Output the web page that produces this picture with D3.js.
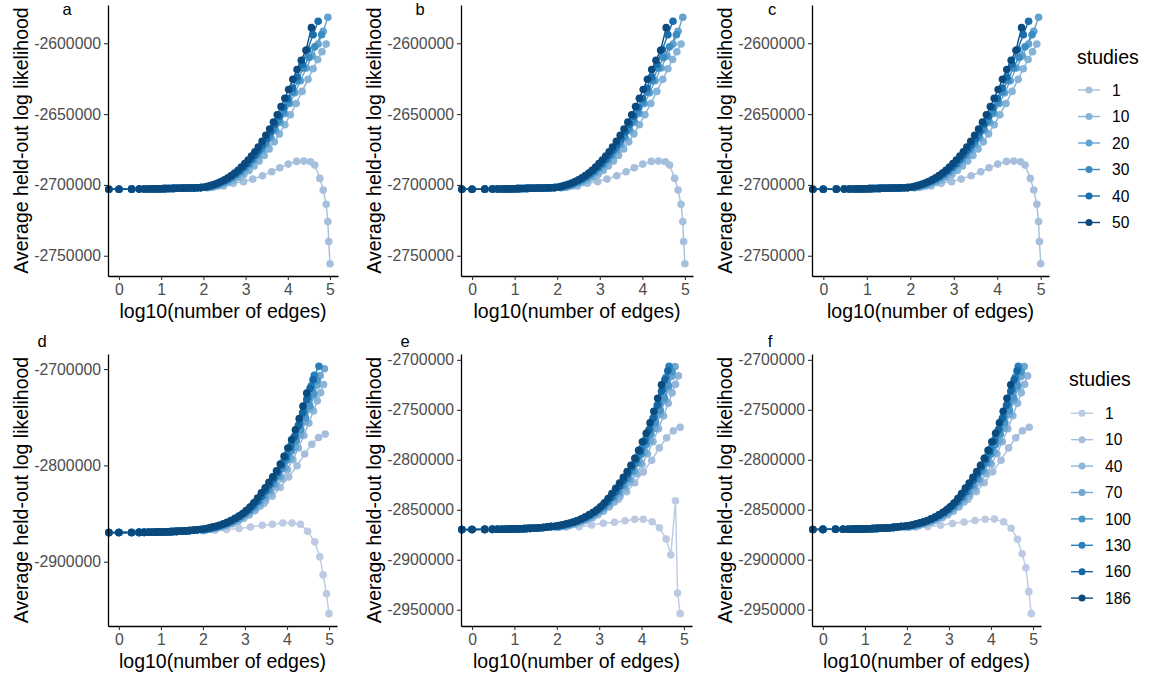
<!DOCTYPE html>
<html>
<head>
<meta charset="utf-8">
<script src="https://cdn.jsdelivr.net/npm/d3@7"></script>
<style>
  body { margin: 0; background: #fff; }
  svg { display: block; }
  text { font-family: "Liberation Sans", Arial, Helvetica, sans-serif; }
</style>
</head>
<body>
<svg id="chart" width="1150" height="676"></svg>
<script>
// ---- data: [log10(number of edges), avg held-out log likelihood] ----
const xTicks = [0, 1, 2, 3, 4, 5];
const topStudies = ["1", "10", "20", "30", "40", "50"];
const bottomStudies = ["1", "10", "40", "70", "100", "130", "160", "186"];
const topYTicks = [-2750000, -2700000, -2650000, -2600000];
const dYTicks = [-2900000, -2800000, -2700000];
const efYTicks = [-2950000, -2900000, -2850000, -2800000, -2750000, -2700000];

// shared flat start (all series overlap here), top row
const topFlat = [[-0.24,-2703100],[0,-2703050],[0.3,-2703000],[0.48,-2702950],[0.6,-2702900],[0.7,-2702850],[0.78,-2702800],[0.85,-2702780],[0.9,-2702750],[0.95,-2702720],[1.0,-2702700],[1.06,-2702650],[1.12,-2702600],[1.18,-2702550],[1.24,-2702500],[1.3,-2702450],[1.37,-2702400],[1.44,-2702350],[1.52,-2702300],[1.6,-2702250],[1.68,-2702200],[1.77,-2702100],[1.86,-2702000],[1.94,-2701900]];

const top1 = [[2.2,-2701600],[2.48,-2700800],[2.71,-2698900],[2.95,-2697700],[3.17,-2695900],[3.4,-2693500],[3.62,-2690700],[3.81,-2687900],[4.01,-2685300],[4.21,-2683400],[4.38,-2683200],[4.54,-2683700],[4.64,-2686000],[4.76,-2695400],[4.84,-2703600],[4.91,-2713700],[4.95,-2725900],[4.97,-2739900],[5.0,-2755600]];
const top10 = [[2.12,-2701800],[2.24,-2701400],[2.36,-2700700],[2.48,-2699600],[2.6,-2698300],[2.72,-2696700],[2.84,-2694800],[2.96,-2692500],[3.08,-2689800],[3.2,-2686700],[3.32,-2683200],[3.44,-2679200],[3.56,-2674700],[3.68,-2669600],[3.8,-2664000],[3.93,-2657500],[4.06,-2650500],[4.2,-2642500],[4.34,-2634000],[4.48,-2625500],[4.6,-2618000],[4.71,-2611500],[4.81,-2606000],[4.91,-2600500]];
const top20 = [[2.1,-2701900],[2.2,-2701300],[2.3,-2700500],[2.4,-2699500],[2.5,-2698300],[2.6,-2696900],[2.7,-2695200],[2.8,-2693300],[2.9,-2691100],[3.0,-2688600],[3.1,-2685800],[3.2,-2682700],[3.3,-2679300],[3.4,-2675500],[3.5,-2671400],[3.6,-2666900],[3.71,-2661500],[3.82,-2655700],[3.93,-2649600],[4.05,-2642500],[4.17,-2635000],[4.3,-2626500],[4.44,-2617500],[4.58,-2609000],[4.72,-2600500],[4.84,-2591600],[4.95,-2581700]];
const top30 = [[2.07,-2701800],[2.17,-2701100],[2.27,-2700200],[2.37,-2699100],[2.47,-2697800],[2.57,-2696300],[2.67,-2694500],[2.77,-2692500],[2.87,-2690200],[2.97,-2687600],[3.07,-2684700],[3.17,-2681500],[3.27,-2678000],[3.37,-2674100],[3.47,-2669900],[3.57,-2665300],[3.67,-2660300],[3.78,-2654500],[3.89,-2648300],[4.0,-2641800],[4.12,-2634300],[4.24,-2626300],[4.37,-2617500],[4.5,-2610000],[4.64,-2602500],[4.8,-2594000]];
const top40 = [[2.05,-2701600],[2.14,-2701000],[2.23,-2700200],[2.32,-2699300],[2.41,-2698200],[2.5,-2697000],[2.59,-2695600],[2.68,-2694000],[2.77,-2692100],[2.86,-2690000],[2.95,-2687600],[3.04,-2685000],[3.13,-2682100],[3.22,-2679000],[3.31,-2675600],[3.4,-2671900],[3.5,-2667400],[3.6,-2662500],[3.7,-2657200],[3.8,-2651500],[3.9,-2645400],[4.0,-2639000],[4.11,-2631600],[4.22,-2623800],[4.34,-2614800],[4.47,-2604500],[4.6,-2594000],[4.72,-2584500]];
const top50 = [[2.02,-2701500],[2.1,-2701000],[2.18,-2700300],[2.26,-2699500],[2.34,-2698600],[2.42,-2697600],[2.5,-2696400],[2.58,-2695000],[2.66,-2693400],[2.74,-2691600],[2.82,-2689600],[2.9,-2687400],[2.98,-2685000],[3.06,-2682400],[3.14,-2679600],[3.22,-2676600],[3.3,-2673300],[3.39,-2669300],[3.48,-2665000],[3.57,-2660500],[3.66,-2655700],[3.75,-2650500],[3.84,-2644600],[3.93,-2638800],[4.02,-2632600],[4.12,-2625500],[4.22,-2618500],[4.32,-2612000],[4.43,-2605000],[4.56,-2589000]];

// shared flat start, bottom row
const bottomFlat = [[-0.24,-2869800],[0,-2869700],[0.3,-2869600],[0.48,-2869550],[0.6,-2869500],[0.7,-2869450],[0.78,-2869400],[0.85,-2869350],[0.9,-2869300],[0.95,-2869250],[1.0,-2869200],[1.06,-2869100],[1.12,-2869000],[1.18,-2868900],[1.24,-2868800],[1.3,-2868700],[1.37,-2868550],[1.44,-2868400],[1.52,-2868200],[1.6,-2868000],[1.68,-2867700],[1.77,-2867300],[1.86,-2866800]];

const d1 = [[2.0,-2868000],[2.28,-2867300],[2.56,-2866600],[2.86,-2865600],[3.13,-2863900],[3.41,-2862200],[3.65,-2861100],[3.9,-2859800],[4.12,-2859800],[4.32,-2861100],[4.49,-2868400],[4.66,-2879400],[4.78,-2894800],[4.86,-2913700],[4.94,-2933300],[5.0,-2953900]];
const e1 = [[1.95,-2868000],[2.23,-2867500],[2.53,-2866900],[2.82,-2865200],[3.1,-2863500],[3.36,-2862500],[3.61,-2860900],[3.84,-2859500],[4.04,-2859500],[4.25,-2861900],[4.42,-2867900],[4.58,-2879200],[4.69,-2895100],[4.8,-2841000],[4.85,-2933300],[4.91,-2953900]];
const f1 = [[1.95,-2868000],[2.22,-2867500],[2.5,-2866900],[2.8,-2865500],[3.08,-2863800],[3.36,-2862300],[3.62,-2860800],[3.86,-2859600],[4.08,-2859400],[4.3,-2862000],[4.48,-2868500],[4.63,-2879500],[4.74,-2894000],[4.83,-2908000],[4.9,-2932000],[4.96,-2954000]];
const bot10 = [[2.05,-2867300],[2.25,-2865600],[2.45,-2863300],[2.65,-2860200],[2.85,-2856300],[3.05,-2851500],[3.25,-2846000],[3.45,-2839600],[3.65,-2832000],[3.84,-2823000],[4.04,-2812100],[4.24,-2800400],[4.42,-2788100],[4.59,-2778000],[4.75,-2771000],[4.91,-2767500]];
const bot40 = [[2.06,-2867200],[2.19,-2866400],[2.32,-2865400],[2.45,-2864100],[2.58,-2862500],[2.71,-2860500],[2.84,-2858000],[2.97,-2855000],[3.1,-2851400],[3.23,-2847200],[3.36,-2842300],[3.49,-2836600],[3.62,-2830000],[3.75,-2822500],[3.88,-2814000],[4.01,-2804500],[4.14,-2794000],[4.27,-2782000],[4.4,-2769000],[4.52,-2756000],[4.63,-2743500],[4.72,-2733000],[4.8,-2724500],[4.87,-2716000]];
const bot70 = [[2.04,-2867000],[2.16,-2866200],[2.28,-2865200],[2.4,-2863900],[2.52,-2862300],[2.64,-2860400],[2.76,-2858100],[2.88,-2855400],[3.0,-2852200],[3.12,-2848500],[3.24,-2844200],[3.36,-2839200],[3.48,-2833500],[3.6,-2827000],[3.72,-2819700],[3.84,-2811500],[3.96,-2802400],[4.08,-2792300],[4.2,-2781000],[4.32,-2768500],[4.44,-2754500],[4.55,-2740500],[4.64,-2727500],[4.72,-2716500],[4.79,-2706700]];
const bot100 = [[2.02,-2866800],[2.13,-2866000],[2.24,-2865000],[2.35,-2863800],[2.46,-2862300],[2.57,-2860500],[2.68,-2858400],[2.79,-2856000],[2.9,-2853200],[3.01,-2850000],[3.12,-2846300],[3.23,-2842000],[3.34,-2837000],[3.45,-2831400],[3.56,-2825200],[3.67,-2818400],[3.78,-2811000],[3.89,-2803000],[4.0,-2794300],[4.11,-2784800],[4.22,-2774400],[4.33,-2763000],[4.44,-2750500],[4.54,-2738000],[4.63,-2725500],[4.72,-2712000]];
const bot130 = [[2.0,-2866600],[2.1,-2865900],[2.2,-2865000],[2.3,-2863900],[2.4,-2862600],[2.5,-2861100],[2.6,-2859400],[2.7,-2857400],[2.8,-2855100],[2.9,-2852500],[3.0,-2849500],[3.1,-2846100],[3.2,-2842000],[3.3,-2837300],[3.4,-2832000],[3.5,-2826000],[3.6,-2819500],[3.7,-2812500],[3.8,-2805000],[3.9,-2797000],[4.0,-2788500],[4.1,-2779000],[4.2,-2768500],[4.3,-2756500],[4.4,-2743500],[4.5,-2729500],[4.58,-2717500],[4.65,-2706500]];
const bot160 = [[1.97,-2866500],[2.07,-2865800],[2.17,-2864900],[2.27,-2863800],[2.37,-2862500],[2.47,-2861000],[2.57,-2859300],[2.67,-2857300],[2.77,-2855000],[2.87,-2852400],[2.97,-2849400],[3.07,-2846000],[3.17,-2842000],[3.27,-2837400],[3.37,-2832200],[3.47,-2826600],[3.57,-2820600],[3.67,-2814200],[3.77,-2807300],[3.87,-2799800],[3.97,-2791600],[4.07,-2781500],[4.17,-2770500],[4.27,-2758500],[4.37,-2745500],[4.47,-2731500],[4.55,-2720000],[4.62,-2711000]];
const bot186 = [[1.95,-2866400],[2.04,-2865800],[2.13,-2865000],[2.22,-2864000],[2.31,-2863200],[2.4,-2862200],[2.49,-2860800],[2.58,-2859200],[2.67,-2857300],[2.76,-2855100],[2.85,-2852800],[2.94,-2850300],[3.03,-2847000],[3.12,-2843200],[3.21,-2838800],[3.3,-2833800],[3.39,-2828400],[3.48,-2823200],[3.57,-2817600],[3.66,-2811800],[3.75,-2805500],[3.84,-2798500],[3.93,-2790500],[4.02,-2782000],[4.11,-2773500],[4.2,-2763000],[4.29,-2751500],[4.38,-2738500],[4.47,-2725000]];
// panel d: a couple of series go one step further
const dExtra70 = [[4.89,-2699600]];
const dExtra130 = [[4.76,-2697200]];

// ---- colours ----
const topColors = ["#a6bfdd", "#86b3d8", "#61a3d0", "#3a8cc2", "#1a6eab", "#0a4a7f"];
const bottomColors = ["#bccae3", "#a6bedc", "#8fb5d8", "#6fa7d1", "#4895c7", "#2a80bb", "#1567a4", "#0a4a7c"];

// ---- assemble series ----
const topSeries = {
  "1": topFlat.concat(top1), "10": topFlat.concat(top10), "20": topFlat.concat(top20),
  "30": topFlat.concat(top30), "40": topFlat.concat(top40), "50": topFlat.concat(top50)
};
const botBase = {
  "10": bottomFlat.concat(bot10), "40": bottomFlat.concat(bot40), "70": bottomFlat.concat(bot70),
  "100": bottomFlat.concat(bot100), "130": bottomFlat.concat(bot130),
  "160": bottomFlat.concat(bot160), "186": bottomFlat.concat(bot186)
};
const dSeries = Object.assign({}, botBase, {
  "1": bottomFlat.concat(d1),
  "70": botBase["70"].concat(dExtra70),
  "130": botBase["130"].concat(dExtra130)
});
const eSeries = Object.assign({}, botBase, {"1": bottomFlat.concat(e1)});
const fSeries = Object.assign({}, botBase, {"1": bottomFlat.concat(f1)});

const svg = d3.select("#chart");
const xDomain = [-0.26, 5.19];

const panels = [
  {label: "a", x0: 108, x1: 338, y0: 5, y1: 276, lx: 67, ly: 15, series: topSeries, studies: topStudies, colors: topColors, yTicks: topYTicks},
  {label: "b", x0: 461, x1: 693, y0: 5, y1: 276, lx: 420, ly: 15, series: topSeries, studies: topStudies, colors: topColors, yTicks: topYTicks},
  {label: "c", x0: 812, x1: 1049, y0: 5, y1: 276, lx: 772, ly: 15, series: topSeries, studies: topStudies, colors: topColors, yTicks: topYTicks},
  {label: "d", x0: 108, x1: 337, y0: 354, y1: 626, lx: 42, ly: 347, series: dSeries, studies: bottomStudies, colors: bottomColors, yTicks: dYTicks},
  {label: "e", x0: 461, x1: 692, y0: 354, y1: 626, lx: 405, ly: 347, series: eSeries, studies: bottomStudies, colors: bottomColors, yTicks: efYTicks},
  {label: "f", x0: 812, x1: 1041, y0: 354, y1: 626, lx: 770, ly: 347, series: fSeries, studies: bottomStudies, colors: bottomColors, yTicks: efYTicks}
];

panels.forEach(p => {
  const x = d3.scaleLinear().domain(xDomain).range([p.x0, p.x1]);
  const allY = p.studies.flatMap(s => p.series[s].map(d => d[1]));
  const [lo, hi] = d3.extent(allY);
  const pad = (hi - lo) * 0.05;
  const y = d3.scaleLinear().domain([lo - pad, hi + pad]).range([p.y1, p.y0]);
  const color = d3.scaleOrdinal().domain(p.studies).range(p.colors);
  const line = d3.line().x(d => x(d[0])).y(d => y(d[1]));

  const g = svg.append("g");

  // lines first, then points (darkest drawn last)
  p.studies.forEach(s => {
    g.append("path")
      .datum(p.series[s])
      .attr("fill", "none")
      .attr("stroke", color(s))
      .attr("stroke-width", 1.4)
      .attr("d", line);
  });
  p.studies.forEach(s => {
    g.selectAll(null)
      .data(p.series[s])
      .enter().append("circle")
        .attr("cx", d => x(d[0]))
        .attr("cy", d => y(d[1]))
        .attr("r", 3.8)
        .attr("fill", color(s));
  });

  // axes
  const xa = g.append("g")
    .attr("transform", `translate(0,${p.y1})`)
    .call(d3.axisBottom(x).tickValues(xTicks).tickFormat(d3.format("d")).tickSize(4).tickPadding(4).tickSizeOuter(0));
  const ya = g.append("g")
    .attr("transform", `translate(${p.x0},0)`)
    .call(d3.axisLeft(y).tickValues(p.yTicks).tickFormat(d => String(d)).tickSize(4).tickPadding(3).tickSizeOuter(0));
  [xa, ya].forEach(a => {
    a.select(".domain").attr("stroke", "#000").attr("stroke-width", 1.3);
    a.selectAll(".tick line").attr("stroke", "#333").attr("stroke-width", 1.1);
    a.selectAll(".tick text")
      .attr("fill", "#4d4d4d")
      .style("font-size", "15.8px")
      .style("font-family", "'Liberation Sans', Arial, sans-serif");
  });

  // titles
  g.append("text")
    .attr("transform", `translate(${p.x0 - 80},${(p.y0 + p.y1) / 2}) rotate(-90)`)
    .attr("text-anchor", "middle")
    .style("font-size", "19.5px")
    .attr("fill", "#000")
    .text("Average held-out log likelihood");
  g.append("text")
    .attr("x", (p.x0 + p.x1) / 2)
    .attr("y", p.y1 + 42)
    .attr("text-anchor", "middle")
    .style("font-size", "19.5px")
    .attr("fill", "#000")
    .text("log10(number of edges)");
  g.append("text")
    .attr("x", p.lx)
    .attr("y", p.ly)
    .attr("text-anchor", "middle")
    .style("font-size", "16.5px")
    .attr("fill", "#000")
    .text(p.label);
});

// ---- legends ----
function legend(studies, colors, titleX, titleY, keyX, itemY0, step) {
  const lg = svg.append("g");
  lg.append("text")
    .attr("x", titleX).attr("y", titleY)
    .style("font-size", "19.5px")
    .attr("fill", "#000")
    .text("studies");
  studies.forEach((s, i) => {
    const yy = itemY0 + i * step;
    lg.append("line")
      .attr("x1", keyX).attr("x2", keyX + 22)
      .attr("y1", yy).attr("y2", yy)
      .attr("stroke", colors[i]).attr("stroke-width", 1.4);
    lg.append("circle")
      .attr("cx", keyX + 11).attr("cy", yy).attr("r", 3.5)
      .attr("fill", colors[i]);
    lg.append("text")
      .attr("x", keyX + 34).attr("y", yy)
      .attr("dy", "0.36em")
      .style("font-size", "15.6px")
      .attr("fill", "#000")
      .text(s);
  });
}
legend(topStudies, topColors, 1077, 64, 1078, 90, 26.5);
legend(bottomStudies, bottomColors, 1069, 386, 1071, 413.3, 26.4);
</script>
</body>
</html>
